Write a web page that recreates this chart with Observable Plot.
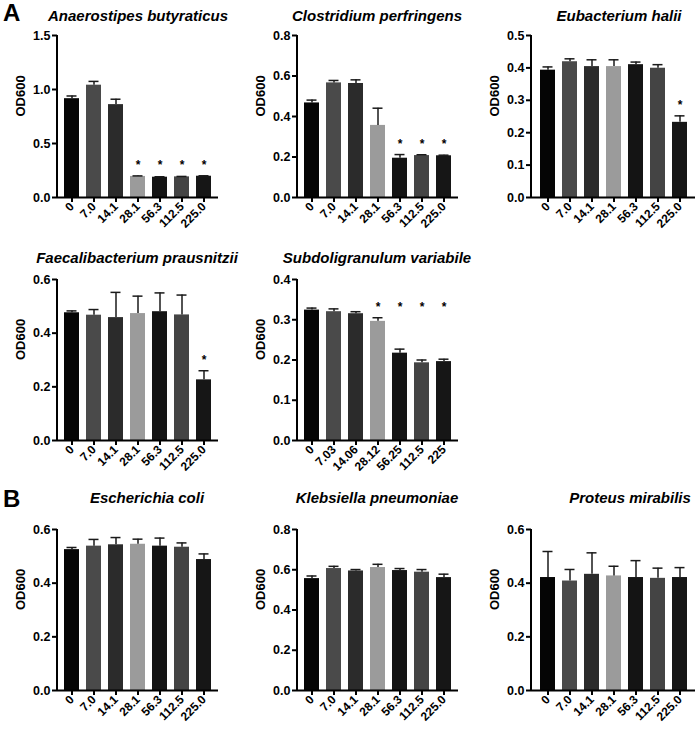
<!DOCTYPE html>
<html><head><meta charset="utf-8">
<script src="https://cdn.jsdelivr.net/npm/d3@7"></script>
<script src="https://cdn.jsdelivr.net/npm/@observablehq/plot@0.6"></script>
<style>
body{margin:0;background:#fff;}
#wrap{position:relative;width:696px;height:730px;font-family:"Liberation Sans",Arial,Helvetica,sans-serif;}
.pl{position:absolute;}
#over{position:absolute;left:0;top:0;pointer-events:none;}
</style></head><body><div id="wrap"></div>
<script>
// ---- data ----
const doses = ["0","7.0","14.1","28.1","56.3","112.5","225.0"];
const dosesSV = ["0","7.03","14.06","28.12","56.25","112.5","225"];

const anaeroMean = [0.915,1.040,0.860,0.195,0.188,0.191,0.197];
const anaeroSD   = [0.025,0.035,0.050,0.005,0.004,0.004,0.004];
const anaeroSig  = [0,0,0,1,1,1,1];

const clostMean = [0.467,0.566,0.563,0.356,0.194,0.207,0.206];
const clostSD   = [0.014,0.012,0.018,0.085,0.018,0.004,0.003];
const clostSig  = [0,0,0,0,1,1,1];

const eubacMean = [0.393,0.419,0.404,0.404,0.410,0.399,0.232];
const eubacSD   = [0.010,0.009,0.021,0.021,0.008,0.011,0.020];
const eubacSig  = [0,0,0,0,0,0,1];

const faecaMean = [0.476,0.467,0.458,0.473,0.480,0.468,0.226];
const faecaSD   = [0.007,0.021,0.094,0.065,0.070,0.074,0.034];
const faecaSig  = [0,0,0,0,0,0,1];

const subdoMean = [0.324,0.320,0.315,0.296,0.217,0.193,0.196];
const subdoSD   = [0.005,0.007,0.005,0.009,0.010,0.007,0.006];
const subdoSig  = [0,0,0,1,1,1,1];

const ecoliMean = [0.525,0.538,0.543,0.545,0.538,0.534,0.488];
const ecoliSD   = [0.008,0.025,0.027,0.019,0.030,0.016,0.021];

const klebsMean = [0.556,0.606,0.594,0.611,0.596,0.588,0.561];
const klebsSD   = [0.013,0.011,0.007,0.016,0.010,0.013,0.017];

const proteMean = [0.421,0.408,0.433,0.427,0.421,0.418,0.421];
const proteSD   = [0.097,0.043,0.080,0.036,0.063,0.038,0.037];

const noSig = [0,0,0,0,0,0,0];

const titles = ["Anaerostipes butyraticus","Clostridium perfringens","Eubacterium halii",
  "Faecalibacterium prausnitzii","Subdoligranulum variabile",
  "Escherichia coli","Klebsiella pneumoniae","Proteus mirabilis"];
const yMax  = [1.5,0.8,0.5,0.6,0.4,0.6,0.8,0.6];
const yStep = [0.5,0.2,0.1,0.2,0.1,0.2,0.2,0.2];
const yLabel = "OD600";
const panelLetters = ["A","B"];

// ---- styles / layout ----
const palette = ["#050505","#4a4a4a","#2b2b2b","#9b9b9b","#141414","#444444","#161616"];
const cols = [{left:0,ml:57,mr:8,w:226},{left:232,ml:65,mr:8,w:234},{left:466,ml:65,mr:1,w:230}];
const rows = [{top:25,fh:162,h:212,tb:21},{top:269,fh:161,h:211,tb:263},{top:519,fh:161,h:211,tb:503}];
const titleX = [138,377,619,137,377,147,377,630];
const FONT = '"Liberation Sans",Arial,Helvetica,sans-serif';

const panels = [
  {labels:doses,  mean:anaeroMean, sd:anaeroSD, sig:anaeroSig, c:0, r:0},
  {labels:doses,  mean:clostMean,  sd:clostSD,  sig:clostSig,  c:1, r:0},
  {labels:doses,  mean:eubacMean,  sd:eubacSD,  sig:eubacSig,  c:2, r:0},
  {labels:doses,  mean:faecaMean,  sd:faecaSD,  sig:faecaSig,  c:0, r:1},
  {labels:dosesSV,mean:subdoMean,  sd:subdoSD,  sig:subdoSig,  c:1, r:1},
  {labels:doses,  mean:ecoliMean,  sd:ecoliSD,  sig:noSig,     c:0, r:2},
  {labels:doses,  mean:klebsMean,  sd:klebsSD,  sig:noSig,     c:1, r:2},
  {labels:doses,  mean:proteMean,  sd:proteSD,  sig:noSig,     c:2, r:2},
];

const svgNS = "http://www.w3.org/2000/svg";
const wrap = document.getElementById("wrap");

const yAxisLine = (index, scales, values, dims) => {
  const l = document.createElementNS(svgNS, "line");
  l.setAttribute("x1", dims.marginLeft);
  l.setAttribute("x2", dims.marginLeft);
  l.setAttribute("y1", dims.marginTop);
  l.setAttribute("y2", dims.height - dims.marginBottom + 1);
  l.setAttribute("stroke", "#000");
  l.setAttribute("stroke-width", 2);
  return l;
};

panels.forEach((p, k) => {
  const col = cols[p.c], row = rows[p.r];
  const data = p.labels.map((l, i) => ({dose:l, mean:p.mean[i], top:p.mean[i] + p.sd[i], sig:p.sig[i], fill:palette[i]}));
  const sigData = data.filter(d => d.sig);
  const sigTop = d3.max(sigData, d => d.top);
  const stars = sigData.map(d => ({dose:d.dose, y:sigTop}));
  const ticks = d3.range(0, yMax[k] + 1e-9, yStep[k]);
  const chart = Plot.plot({
    width: col.w, height: row.h,
    marginLeft: col.ml, marginRight: col.mr, marginTop: 10, marginBottom: row.h - 10 - row.fh,
    style: {background:"transparent", overflow:"visible", fontFamily:FONT, fontWeight:"bold", color:"#000"},
    x: {type:"band", domain:p.labels, paddingInner:0.34, paddingOuter:0.28},
    y: {domain:[0, yMax[k]]},
    marks: [
      Plot.barY(data, {x:"dose", y:"mean", fill:"fill"}),
      Plot.ruleX(data, {x:"dose", y1:"mean", y2:"top", stroke:"#1a1a1a", strokeWidth:1.5}),
      Plot.tickY(data, {x:"dose", y:"top", stroke:"#1a1a1a", strokeWidth:1.5, insetLeft:2.5, insetRight:2.5}),
      Plot.text(stars, {x:"dose", y:"y", text:() => "*", dy:-10.5, fontSize:12, fontWeight:"bold", fill:"#000"}),
      Plot.axisY({ticks, tickFormat:d3.format(".1f"), tickSize:5, tickPadding:2, strokeWidth:2, fontSize:12.5, label:null}),
      Plot.axisX({tickRotate:-45, tickSize:5, tickPadding:2, strokeWidth:2, fontSize:12, label:null}),
      Plot.ruleY([0], {strokeWidth:2, stroke:"#000"}),
      yAxisLine,
      Plot.text([yLabel], {frameAnchor:"left", rotate:-90, dx:-37, fontSize:13, fontWeight:"bold", fill:"#000"})
    ]
  });
  chart.classList.add("pl");
  chart.style.left = col.left + "px";
  chart.style.top = row.top + "px";
  wrap.appendChild(chart);
});

// overlay with titles and panel letters
const over = d3.create("svg").attr("id","over").attr("width",696).attr("height",730)
  .style("font-family", FONT);
panels.forEach((p, k) => {
  over.append("text").attr("x", titleX[k]).attr("y", rows[p.r].tb)
    .attr("text-anchor","middle").attr("font-size",15).attr("font-weight","bold").attr("font-style","italic")
    .text(titles[k]);
});
over.append("text").attr("x",3).attr("y",21).attr("font-size",24).attr("font-weight","bold").text(panelLetters[0]);
over.append("text").attr("x",3).attr("y",507).attr("font-size",24).attr("font-weight","bold").text(panelLetters[1]);
wrap.appendChild(over.node());
</script></body></html>
